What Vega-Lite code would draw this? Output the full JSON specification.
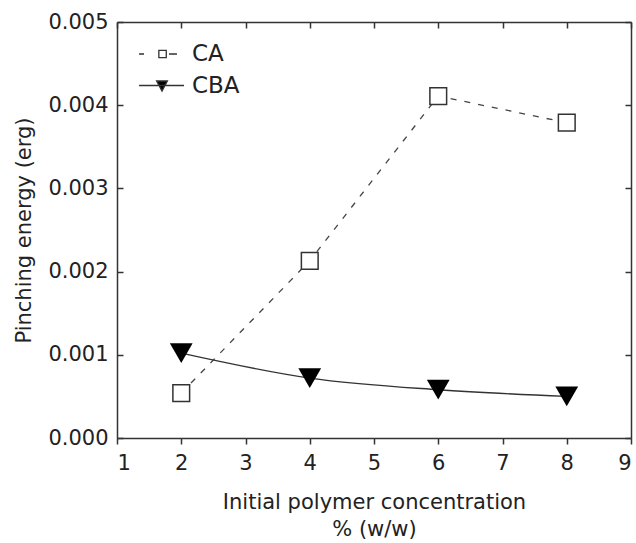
{
  "$schema": "https://vega.github.io/schema/vega-lite/v6.json",
  "width": 514,
  "height": 416,
  "autosize": "none",
  "padding": {"left": 117, "top": 22, "right": 5, "bottom": 105},
  "config": {
    "view": {"stroke": null},
    "font": "DejaVu Sans",
    "axis": {
      "grid": false,
      "domainColor": "#333",
      "tickColor": "#333",
      "labelColor": "#222",
      "titleColor": "#222",
      "domainWidth": 1.5,
      "tickWidth": 1.5,
      "labelFont": "DejaVu Sans",
      "titleFont": "DejaVu Sans",
      "labelFontSize": 21,
      "titleFontSize": 21,
      "titleFontWeight": "normal"
    }
  },
  "data": {
    "values": [
      {"series": "CA", "conc": 2, "energy": 0.00054},
      {"series": "CA", "conc": 4, "energy": 0.00213},
      {"series": "CA", "conc": 6, "energy": 0.00411},
      {"series": "CA", "conc": 8, "energy": 0.00379},
      {"series": "CBA", "conc": 2, "energy": 0.00102},
      {"series": "CBA", "conc": 4, "energy": 0.00072},
      {"series": "CBA", "conc": 6, "energy": 0.00058},
      {"series": "CBA", "conc": 8, "energy": 0.0005}
    ]
  },
  "layer": [
    {
      "transform": [{"filter": "datum.series == 'CA'"}],
      "mark": {"type": "line", "stroke": "#444", "strokeWidth": 1.3, "strokeDash": [6, 8]},
      "encoding": {
        "x": {
          "field": "conc", "type": "quantitative",
          "scale": {"domain": [1, 9], "nice": false},
          "axis": {
            "orient": "bottom", "values": [1, 2, 3, 4, 5, 6, 7, 8, 9], "format": "d",
            "tickSize": 6, "labelPadding": 8,
            "title": ["Initial polymer concentration", "% (w/w)"],
            "titlePadding": 18, "titleLineHeight": 27
          }
        },
        "y": {
          "field": "energy", "type": "quantitative",
          "scale": {"domain": [0, 0.005], "nice": false},
          "axis": {
            "orient": "left", "values": [0, 0.001, 0.002, 0.003, 0.004, 0.005], "format": ".3f",
            "tickSize": -6, "labelPadding": 15,
            "title": "Pinching energy (erg)", "titlePadding": 13
          }
        }
      }
    },
    {
      "transform": [{"filter": "datum.series == 'CBA'"}],
      "mark": {"type": "line", "stroke": "#333", "strokeWidth": 1.4, "interpolate": "monotone"},
      "encoding": {
        "x": {
          "field": "conc", "type": "quantitative",
          "axis": {"orient": "top", "values": [1, 2, 3, 4, 5, 6, 7, 8, 9], "tickSize": -6, "labels": false, "title": null}
        },
        "y": {
          "field": "energy", "type": "quantitative",
          "axis": {"orient": "right", "values": [0, 0.001, 0.002, 0.003, 0.004, 0.005], "tickSize": -6, "labels": false, "title": null}
        }
      }
    },
    {
      "transform": [{"filter": "datum.series == 'CA'"}],
      "mark": {"type": "point", "shape": "square", "size": 280, "filled": true, "fill": "white", "stroke": "#333", "strokeWidth": 1.5, "opacity": 1},
      "encoding": {
        "x": {"field": "conc", "type": "quantitative", "axis": null},
        "y": {"field": "energy", "type": "quantitative", "axis": null}
      }
    },
    {
      "transform": [{"filter": "datum.series == 'CBA'"}],
      "mark": {"type": "point", "shape": "triangle-down", "size": 520, "filled": true, "fill": "#000", "opacity": 1},
      "encoding": {
        "x": {"field": "conc", "type": "quantitative", "axis": null},
        "y": {"field": "energy", "type": "quantitative", "axis": null}
      }
    },
    {
      "transform": [{"filter": "datum.conc < 0"}],
      "mark": {"type": "point", "filled": true, "strokeWidth": 1.3, "opacity": 1},
      "encoding": {
        "x": {"field": "conc", "type": "quantitative", "axis": null},
        "y": {"field": "energy", "type": "quantitative", "axis": null},
        "shape": {
          "field": "series", "type": "nominal",
          "scale": {
            "domain": ["CA", "CBA"],
            "range": [
              "M-2.04,0H-1.6M-0.28,-0.33H0.38V0.33H-0.28ZM0.62,0H1.33",
              "M-2.04,0H1.96M-0.48,-0.4H0.48L0,0.5Z"
            ]
          },
          "legend": {
            "orient": "none", "legendX": 33, "legendY": 20, "title": null,
            "symbolSize": 506, "symbolStrokeWidth": 1.3,
            "labelFont": "DejaVu Sans", "labelFontSize": 23, "labelColor": "#222",
            "labelOffset": 18, "rowPadding": 7.5, "padding": 0
          }
        },
        "fill": {
          "field": "series", "type": "nominal",
          "scale": {"domain": ["CA", "CBA"], "range": ["white", "#000"]},
          "legend": {
            "orient": "none", "legendX": 33, "legendY": 20, "title": null,
            "symbolSize": 506, "symbolStrokeWidth": 1.3,
            "labelFont": "DejaVu Sans", "labelFontSize": 23, "labelColor": "#222",
            "labelOffset": 18, "rowPadding": 7.5, "padding": 0
          }
        },
        "stroke": {
          "field": "series", "type": "nominal",
          "scale": {"domain": ["CA", "CBA"], "range": ["#333", "#333"]},
          "legend": {
            "orient": "none", "legendX": 33, "legendY": 20, "title": null,
            "symbolSize": 506, "symbolStrokeWidth": 1.3,
            "labelFont": "DejaVu Sans", "labelFontSize": 23, "labelColor": "#222",
            "labelOffset": 18, "rowPadding": 7.5, "padding": 0
          }
        }
      }
    }
  ],
  "resolve": {"axis": {"x": "independent", "y": "independent"}}
}
